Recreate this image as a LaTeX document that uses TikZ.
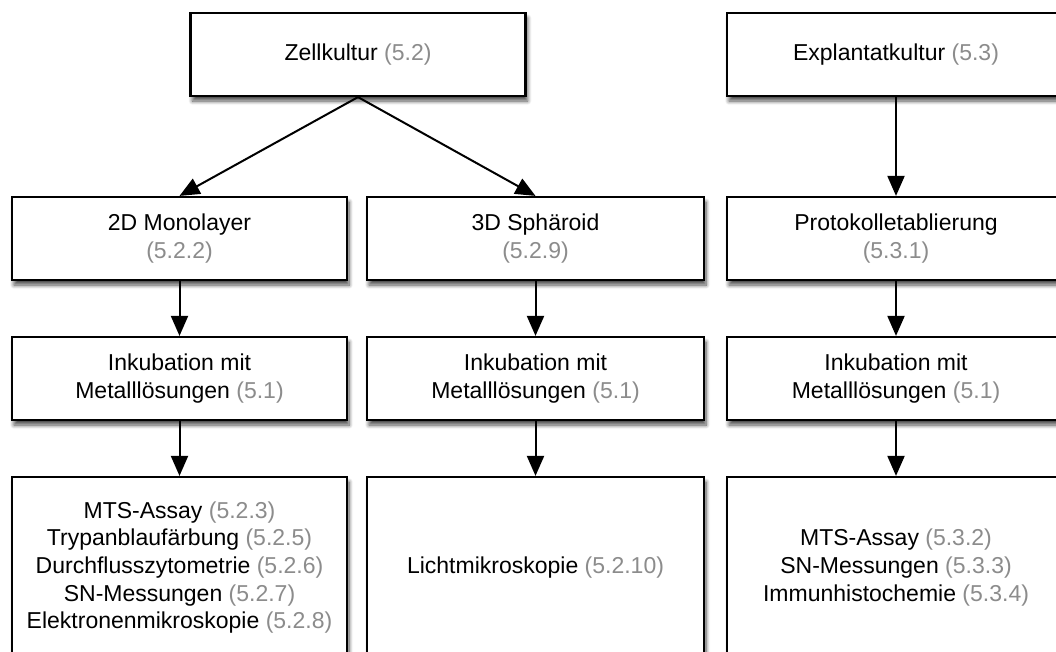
\documentclass[tikz,border=0pt]{standalone}
\usepackage{fontspec}
\setmainfont{Liberation Sans}
\usetikzlibrary{arrows.meta,shadows.blur}
\definecolor{refgray}{RGB}{140,140,140}
\newcommand{\rf}[1]{\textcolor{refgray}{#1}}
\tikzset{
  box/.style={draw=black, line width=2.2pt, fill=white, rectangle, align=center,
    font=\fontsize{23}{27.6}\selectfont, minimum height=83pt, inner sep=0pt,
    blur shadow={shadow xshift=2pt, shadow yshift=-5pt, shadow blur steps=8, shadow opacity=70, shadow blur radius=4pt}},
  conn/.style={line width=2pt, -{Triangle[length=20pt,width=17pt]}}
}
\begin{document}
\begin{tikzpicture}[x=1pt,y=-1pt]
\useasboundingbox (0,0) rectangle (1056,651);
\clip (0,0) rectangle (1056,651);
\node[box, minimum width=335pt] (zk) at (358,54.5) {Zellkultur \rf{(5.2)}};
\node[box, minimum width=338pt] (ek) at (896,54.5) {Explantatkultur \rf{(5.3)}};
\node[box, minimum width=335pt] (mono) at (179.5,238.5) {2D Monolayer\\\rf{(5.2.2)}};
\node[box, minimum width=337pt] (sph) at (535.5,238.5) {3D Sphäroid\\\rf{(5.2.9)}};
\node[box, minimum width=338pt] (prot) at (896,238.5) {Protokolletablierung\\\rf{(5.3.1)}};
\node[box, minimum width=335pt] (ink1) at (179.5,378.5) {Inkubation mit\\Metalllösungen \rf{(5.1)}};
\node[box, minimum width=337pt] (ink2) at (535.5,378.5) {Inkubation mit\\Metalllösungen \rf{(5.1)}};
\node[box, minimum width=338pt] (ink3) at (896,378.5) {Inkubation mit\\Metalllösungen \rf{(5.1)}};
\node[box, minimum width=335pt, minimum height=181pt] (res1) at (179.5,567.5) {MTS-Assay \rf{(5.2.3)}\\Trypanblaufärbung \rf{(5.2.5)}\\Durchflusszytometrie \rf{(5.2.6)}\\SN-Messungen \rf{(5.2.7)}\\Elektronenmikroskopie \rf{(5.2.8)}};
\node[box, minimum width=337pt, minimum height=181pt] (res2) at (535.5,567.5) {Lichtmikroskopie \rf{(5.2.10)}};
\node[box, minimum width=338pt, minimum height=181pt] (res3) at (896,567.5) {MTS-Assay \rf{(5.3.2)}\\SN-Messungen \rf{(5.3.3)}\\Immunhistochemie \rf{(5.3.4)}};
\draw[conn] (zk.south) -- (mono.north);
\draw[conn] (zk.south) -- (sph.north);
\draw[conn] (ek) -- (prot);
\draw[conn] (mono) -- (ink1);
\draw[conn] (sph) -- (ink2);
\draw[conn] (prot) -- (ink3);
\draw[conn] (ink1) -- (res1);
\draw[conn] (ink2) -- (res2);
\draw[conn] (ink3) -- (res3);
\end{tikzpicture}
\end{document}
